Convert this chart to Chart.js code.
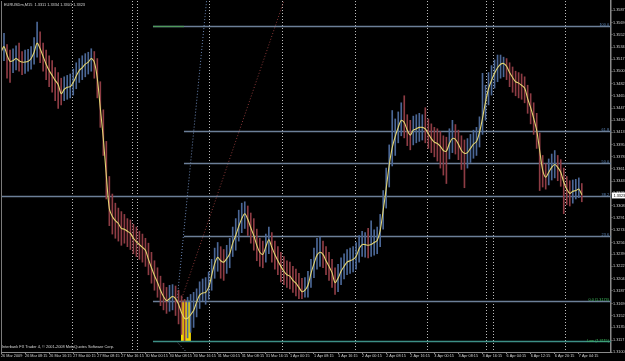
<!DOCTYPE html>
<html lang="en">
<head>
<meta charset="UTF-8">
<title>EURUSD M15</title>
<script src="https://cdn.jsdelivr.net/npm/chart.js@4.4.1/dist/chart.umd.min.js"></script>
<style>
  html, body { margin: 0; padding: 0; background: #000; }
  canvas { display: block; }
</style>
</head>
<body>
<canvas id="myChart" width="625" height="361"></canvas>
<script>
// hourly bars, hour 0 = 26 Mar 2009 00:00 (trading hours only)
const closes = [1.3527,1.3535,1.3523,1.3514,1.3515,1.3518,1.3515,1.3513,1.3513,1.3514,
  1.3518,1.3527,1.3540,1.3532,1.3521,1.3510,1.3501,1.3494,1.3487,1.3481,
  1.3468,1.3474,1.3477,1.3478,1.3484,1.3493,1.3501,1.3505,1.3510,1.3513,
  1.3518,1.3513,1.3490,1.3447,1.3404,1.3351,1.3304,1.3293,1.3287,1.3283,
  1.3276,1.3275,1.3272,1.3269,1.3262,1.3257,1.3253,1.3249,1.3245,1.3232,
  1.3220,1.3209,1.3199,1.3188,1.3179,1.3173,1.3176,1.3179,1.3176,1.3168,
  1.3156,1.3148,1.3148,1.3153,1.3159,1.3171,1.3181,1.3184,1.3185,1.3192,
  1.3209,1.3226,1.3235,1.3230,1.3228,1.3233,1.3240,1.3255,1.3266,1.3279,
  1.3290,1.3297,1.3289,1.3277,1.3266,1.3252,1.3242,1.3239,1.3250,1.3260,
  1.3249,1.3239,1.3230,1.3222,1.3215,1.3210,1.3208,1.3202,1.3198,1.3192,
  1.3186,1.3188,1.3195,1.3212,1.3226,1.3238,1.3242,1.3239,1.3230,1.3222,
  1.3213,1.3199,1.3205,1.3215,1.3222,1.3228,1.3230,1.3232,1.3236,1.3247,
  1.3253,1.3253,1.3252,1.3253,1.3256,1.3259,1.3273,1.3302,1.3333,1.3366,
  1.3391,1.3407,1.3420,1.3430,1.3427,1.3416,1.3409,1.3416,1.3418,1.3420,
  1.3420,1.3418,1.3411,1.3404,1.3399,1.3397,1.3393,1.3387,1.3386,1.3397,
  1.3404,1.3403,1.3396,1.3387,1.3383,1.3384,1.3390,1.3396,1.3400,1.3413,
  1.3433,1.3456,1.3475,1.3487,1.3497,1.3505,1.3510,1.3511,1.3507,1.3498,
  1.3491,1.3485,1.3483,1.3480,1.3476,1.3461,1.3448,1.3433,1.3416,1.3387,
  1.3359,1.3349,1.3356,1.3363,1.3367,1.3363,1.3356,1.3342,1.3332,1.3326,
  1.3329,1.3330,1.3332,1.3324];

const highs = [1.3545,1.3554,1.3538,1.3530,1.3532,1.3536,1.3540,1.3528,1.3530,1.3531,
  1.3535,1.3548,1.3570,1.3556,1.3540,1.3530,1.3522,1.3515,1.3505,1.3498,
  1.3490,1.3492,1.3494,1.3496,1.3503,1.3512,1.3518,1.3522,1.3525,1.3527,
  1.3532,1.3528,1.3518,1.3485,1.3445,1.3400,1.3350,1.3325,1.3312,1.3305,
  1.3300,1.3296,1.3290,1.3288,1.3282,1.3278,1.3272,1.3268,1.3262,1.3255,
  1.3242,1.3230,1.3220,1.3208,1.3198,1.3192,1.3195,1.3196,1.3194,1.3188,
  1.3180,1.3175,1.3178,1.3182,1.3185,1.3190,1.3200,1.3204,1.3206,1.3214,
  1.3232,1.3248,1.3256,1.3250,1.3246,1.3252,1.3262,1.3278,1.3290,1.3302,
  1.3312,1.3314,1.3308,1.3298,1.3290,1.3275,1.3262,1.3258,1.3268,1.3278,
  1.3270,1.3258,1.3250,1.3242,1.3236,1.3230,1.3228,1.3222,1.3218,1.3212,
  1.3205,1.3206,1.3215,1.3232,1.3248,1.3262,1.3264,1.3258,1.3250,1.3242,
  1.3232,1.3220,1.3225,1.3234,1.3240,1.3246,1.3248,1.3250,1.3256,1.3266,
  1.3272,1.3270,1.3276,1.3287,1.3274,1.3278,1.3296,1.3330,1.3362,1.3395,
  1.3444,1.3432,1.3442,1.3455,1.3465,1.3438,1.3430,1.3436,1.3438,1.3440,
  1.3438,1.3448,1.3432,1.3425,1.3420,1.3418,1.3414,1.3408,1.3406,1.3418,
  1.3430,1.3424,1.3416,1.3408,1.3402,1.3404,1.3410,1.3416,1.3420,1.3435,
  1.3497,1.3480,1.3498,1.3508,1.3516,1.3523,1.3523,1.3520,1.3518,1.3512,
  1.3506,1.3500,1.3498,1.3496,1.3492,1.3480,1.3468,1.3455,1.3440,1.3412,
  1.3380,1.3368,1.3375,1.3382,1.3387,1.3380,1.3374,1.3362,1.3350,1.3344,
  1.3345,1.3346,1.3348,1.3340];

const lows = [1.3510,1.3515,1.3490,1.3484,1.3498,1.3502,1.3500,1.3495,1.3497,1.3500,
  1.3503,1.3510,1.3520,1.3512,1.3500,1.3488,1.3478,1.3470,1.3458,1.3447,
  1.3452,1.3458,1.3460,1.3462,1.3466,1.3475,1.3484,1.3488,1.3492,1.3496,
  1.3500,1.3490,1.3462,1.3420,1.3380,1.3318,1.3280,1.3268,1.3262,1.3258,
  1.3252,1.3255,1.3250,1.3246,1.3240,1.3236,1.3232,1.3228,1.3222,1.3210,
  1.3198,1.3188,1.3178,1.3166,1.3160,1.3155,1.3158,1.3160,1.3152,1.3140,
  1.3125,1.3116,1.3120,1.3128,1.3135,1.3150,1.3162,1.3173,1.3168,1.3175,
  1.3188,1.3205,1.3215,1.3205,1.3202,1.3212,1.3220,1.3236,1.3245,1.3258,
  1.3270,1.3276,1.3266,1.3255,1.3245,1.3230,1.3222,1.3220,1.3228,1.3240,
  1.3228,1.3218,1.3210,1.3200,1.3196,1.3192,1.3190,1.3185,1.3180,1.3176,
  1.3176,1.3178,1.3178,1.3192,1.3206,1.3218,1.3222,1.3220,1.3210,1.3202,
  1.3192,1.3182,1.3186,1.3196,1.3204,1.3210,1.3212,1.3214,1.3218,1.3228,
  1.3236,1.3235,1.3234,1.3236,1.3238,1.3240,1.3250,1.3275,1.3305,1.3335,
  1.3365,1.3380,1.3398,1.3408,1.3405,1.3394,1.3388,1.3395,1.3398,1.3400,
  1.3402,1.3398,1.3390,1.3384,1.3378,1.3372,1.3362,1.3352,1.3340,1.3375,
  1.3384,1.3382,1.3374,1.3360,1.3334,1.3362,1.3370,1.3376,1.3380,1.3392,
  1.3410,1.3430,1.3452,1.3466,1.3476,1.3485,1.3490,1.3492,1.3488,1.3478,
  1.3470,1.3465,1.3462,1.3460,1.3455,1.3440,1.3425,1.3410,1.3390,1.3330,
  1.3335,1.3332,1.3338,1.3345,1.3348,1.3344,1.3336,1.3297,1.3310,1.3308,
  1.3312,1.3318,1.3320,1.3314];

const timeLabels = ['26 Mar 2009','26 Mar 08:15','26 Mar 16:15','27 Mar 00:15','27 Mar 08:15',
  '27 Mar 16:15','30 Mar 00:15','30 Mar 08:15','30 Mar 16:15','31 Mar 00:15','31 Mar 08:15',
  '31 Mar 16:15','1 Apr 00:15','1 Apr 08:15','1 Apr 16:15','2 Apr 00:15','2 Apr 08:15',
  '2 Apr 16:15','3 Apr 00:15','3 Apr 08:15','3 Apr 16:15','6 Apr 04:15','6 Apr 12:15',
  '6 Apr 20:15','7 Apr 04:15'];
const timeTicks = [0,8,16,24,32,40,48,56,64,72,80,88,96,104,112,120,128,136,144,152,160,168,176,184,192];

const priceTicks = [1.3587,1.3569,1.3552,1.3534,1.3517,1.3500,1.3482,1.3465,1.3447,1.3430,
  1.3413,1.3395,1.3378,1.3361,1.3343,1.3326,1.3308,1.3291,1.3274,1.3256,1.3239,1.3222,
  1.3204,1.3187,1.3169,1.3152,1.3135,1.3117,1.3100];

// objects on the chart
const fibLow = 1.3173;
const fibHigh = 1.3565;
const fibRatios = [100, 61.8, 50, 38.2, 23.6, 0];
const fibStart = [50.5, 60.8, 60.8, 0, 60.8, 50.5];
const lowLine = 1.3115;
const separators = [23.6, 43.5, 45.2, 69.1, 93.4, 117.6, 141.5, 161.1, 163.5, 187.4];
const boxHours = [59.8, 63.1];
const boxPrices = [1.3115, 1.3173];
const lastPrice = 1.3323;

const hours = closes.map((c, i) => i);

const overlay = {
  id: 'overlay',
  beforeDatasetsDraw(chart) {
    const { ctx, chartArea: a, scales: { x, y } } = chart;
    ctx.save();
    ctx.beginPath();
    ctx.rect(a.left, a.top, a.right - a.left, a.bottom - a.top);
    ctx.clip();

    // yellow box
    const bx0 = x.getPixelForValue(boxHours[0]), bx1 = x.getPixelForValue(boxHours[1]);
    const by0 = y.getPixelForValue(boxPrices[1]), by1 = y.getPixelForValue(boxPrices[0]);
    ctx.fillStyle = '#f4d800';
    ctx.fillRect(bx0, by0, bx1 - bx0, by1 - by0);

    // period separators
    ctx.setLineDash([1, 2]);
    ctx.lineWidth = 1;
    ctx.strokeStyle = '#bdbdbd';
    separators.forEach(h => {
      const px = Math.round(x.getPixelForValue(h)) + 0.5;
      ctx.beginPath(); ctx.moveTo(px, a.top); ctx.lineTo(px, a.bottom); ctx.stroke();
    });

    // trend / fan lines
    const seg = (h0, p0, h1, p1, col) => {
      ctx.strokeStyle = col;
      ctx.beginPath();
      ctx.moveTo(x.getPixelForValue(h0), y.getPixelForValue(p0));
      ctx.lineTo(x.getPixelForValue(h1), y.getPixelForValue(p1));
      ctx.stroke();
    };
    seg(58.5, fibLow, 68.3, 1.3600, '#6a86b4');
    seg(59.8, fibLow, 94.0, 1.3600, '#8a3838');
    seg(58.3, lowLine, 61.6, 1.3100, '#7a8aa0');
    ctx.setLineDash([]);

    // fibonacci levels
    ctx.lineWidth = 1.3;
    fibRatios.forEach((r, i) => {
      const py = Math.round(y.getPixelForValue(fibLow + (fibHigh - fibLow) * r / 100)) + 0.5;
      ctx.strokeStyle = '#6c7f98';
      ctx.beginPath(); ctx.moveTo(x.getPixelForValue(fibStart[i]), py); ctx.lineTo(a.right, py); ctx.stroke();
    });
    // green start of the 100 line
    const py100 = Math.round(y.getPixelForValue(fibHigh)) + 0.5;
    ctx.strokeStyle = '#4f9a5c';
    ctx.beginPath(); ctx.moveTo(x.getPixelForValue(50.5), py100); ctx.lineTo(x.getPixelForValue(60.8), py100); ctx.stroke();
    // low line
    const pyLow = Math.round(y.getPixelForValue(lowLine)) + 0.5;
    ctx.strokeStyle = '#3d8f86';
    ctx.lineWidth = 1.6;
    ctx.beginPath(); ctx.moveTo(x.getPixelForValue(50.5), pyLow); ctx.lineTo(a.right, pyLow); ctx.stroke();
    ctx.restore();
  },
  afterDraw(chart) {
    const { ctx, chartArea: a, scales: { x, y } } = chart;
    ctx.save();
    // left border
    ctx.strokeStyle = '#7a7a7a';
    ctx.lineWidth = 1;
    ctx.beginPath(); ctx.moveTo(a.left + 0.5, a.top); ctx.lineTo(a.left + 0.5, a.bottom); ctx.stroke();

    ctx.font = '3.8px "Liberation Sans"';
    ctx.textBaseline = 'bottom';
    ctx.textAlign = 'right';
    fibRatios.forEach(r => {
      if (r === 0) return;
      const py = y.getPixelForValue(fibLow + (fibHigh - fibLow) * r / 100);
      ctx.fillStyle = '#5d86b8';
      ctx.fillText(r.toFixed(1), a.right - 2, py + 1);
    });
    ctx.fillStyle = '#3fbf5f';
    ctx.fillText('0.0 (' + fibLow.toFixed(4) + ')', a.right - 2, y.getPixelForValue(fibLow) + 1);
    ctx.fillText('Low (' + lowLine.toFixed(4) + ')', a.right - 2, y.getPixelForValue(lowLine) + 1);

    // title and copyright
    ctx.textAlign = 'left';
    ctx.textBaseline = 'middle';
    ctx.fillStyle = '#d8d8d8';
    ctx.font = '3.9px "Liberation Sans"';
    ctx.fillText('EURUSDm,M15  1.3311 1.3334 1.3301 1.3323', a.left + 3, 5);
    ctx.fillText('Interbank FX Trader 4, \u00a9 2001-2008 MetaQuotes Software Corp.', a.left + 1, a.bottom - 5);

    // current price marker on the axis
    const pp = y.getPixelForValue(lastPrice);
    ctx.fillStyle = '#ffffff';
    ctx.fillRect(a.right + 1, pp - 3, 14, 6);
    ctx.fillStyle = '#000000';
    ctx.font = '3.8px "Liberation Sans"';
    ctx.fillText(lastPrice.toFixed(4), a.right + 2.5, pp);
    ctx.restore();
  }
};

Chart.defaults.font.family = '"Liberation Sans", Arial, sans-serif';
Chart.defaults.color = '#cfcfcf';

const ctx = document.getElementById('myChart').getContext('2d');
const myChart = new Chart(ctx, {
  type: 'bar',
  data: {
    datasets: [{
      type: 'line',
      label: 'MA',
      data: hours.map(i => ({ x: i, y: closes[i] })),
      borderColor: '#e2d472',
      borderWidth: 1.1,
      pointRadius: 0,
      tension: 0.3,
      order: 1
    }, {
      type: 'bar',
      label: 'EURUSD',
      data: hours.map(i => ({ x: i, y: [lows[i], highs[i]] })),
      backgroundColor: hours.map(i => (i > 0 && closes[i] < closes[i - 1]) ? '#8e3c44' : '#4b6796'),
      barThickness: 1,
      maxBarThickness: 1,
      order: 2
    }]
  },
  options: {
    responsive: false,
    animation: false,
    devicePixelRatio: 1,
    layout: { padding: { left: 1, top: 1, right: 0, bottom: 0 } },
    plugins: { legend: { display: false }, tooltip: { enabled: false } },
    scales: {
      x: {
        type: 'linear',
        offset: false,
        min: 0,
        max: 202.7,
        afterFit(scale) { scale.height = 9; scale.paddingLeft = 0; scale.paddingRight = 0; },
        afterBuildTicks(scale) { scale.ticks = timeTicks.map(v => ({ value: v })); },
        grid: { offset: false, drawOnChartArea: false, color: '#8a8a8a', tickLength: 2 },
        border: { color: '#8a8a8a', width: 1 },
        ticks: {
          autoSkip: false,
          maxRotation: 0,
          align: 'start',
          padding: 0,
          font: { size: 3.8 },
          color: '#d0d0d0',
          callback: (v) => timeLabels[timeTicks.indexOf(v)]
        }
      },
      y: {
        type: 'linear',
        position: 'right',
        min: 1.3100,
        max: 1.3600,
        afterFit(scale) { scale.width = 14; scale.paddingTop = 0; scale.paddingBottom = 0; },
        afterBuildTicks(scale) { scale.ticks = priceTicks.map(v => ({ value: v })); },
        grid: { drawOnChartArea: false, color: '#8a8a8a', tickLength: 1.5 },
        border: { color: '#8a8a8a', width: 1.5 },
        ticks: {
          autoSkip: false,
          padding: 0.5,
          font: { size: 3.8 },
          color: '#d0d0d0',
          callback: (v) => Number(v).toFixed(4)
        }
      }
    }
  },
  plugins: [overlay]
});
</script>
</body>
</html>
